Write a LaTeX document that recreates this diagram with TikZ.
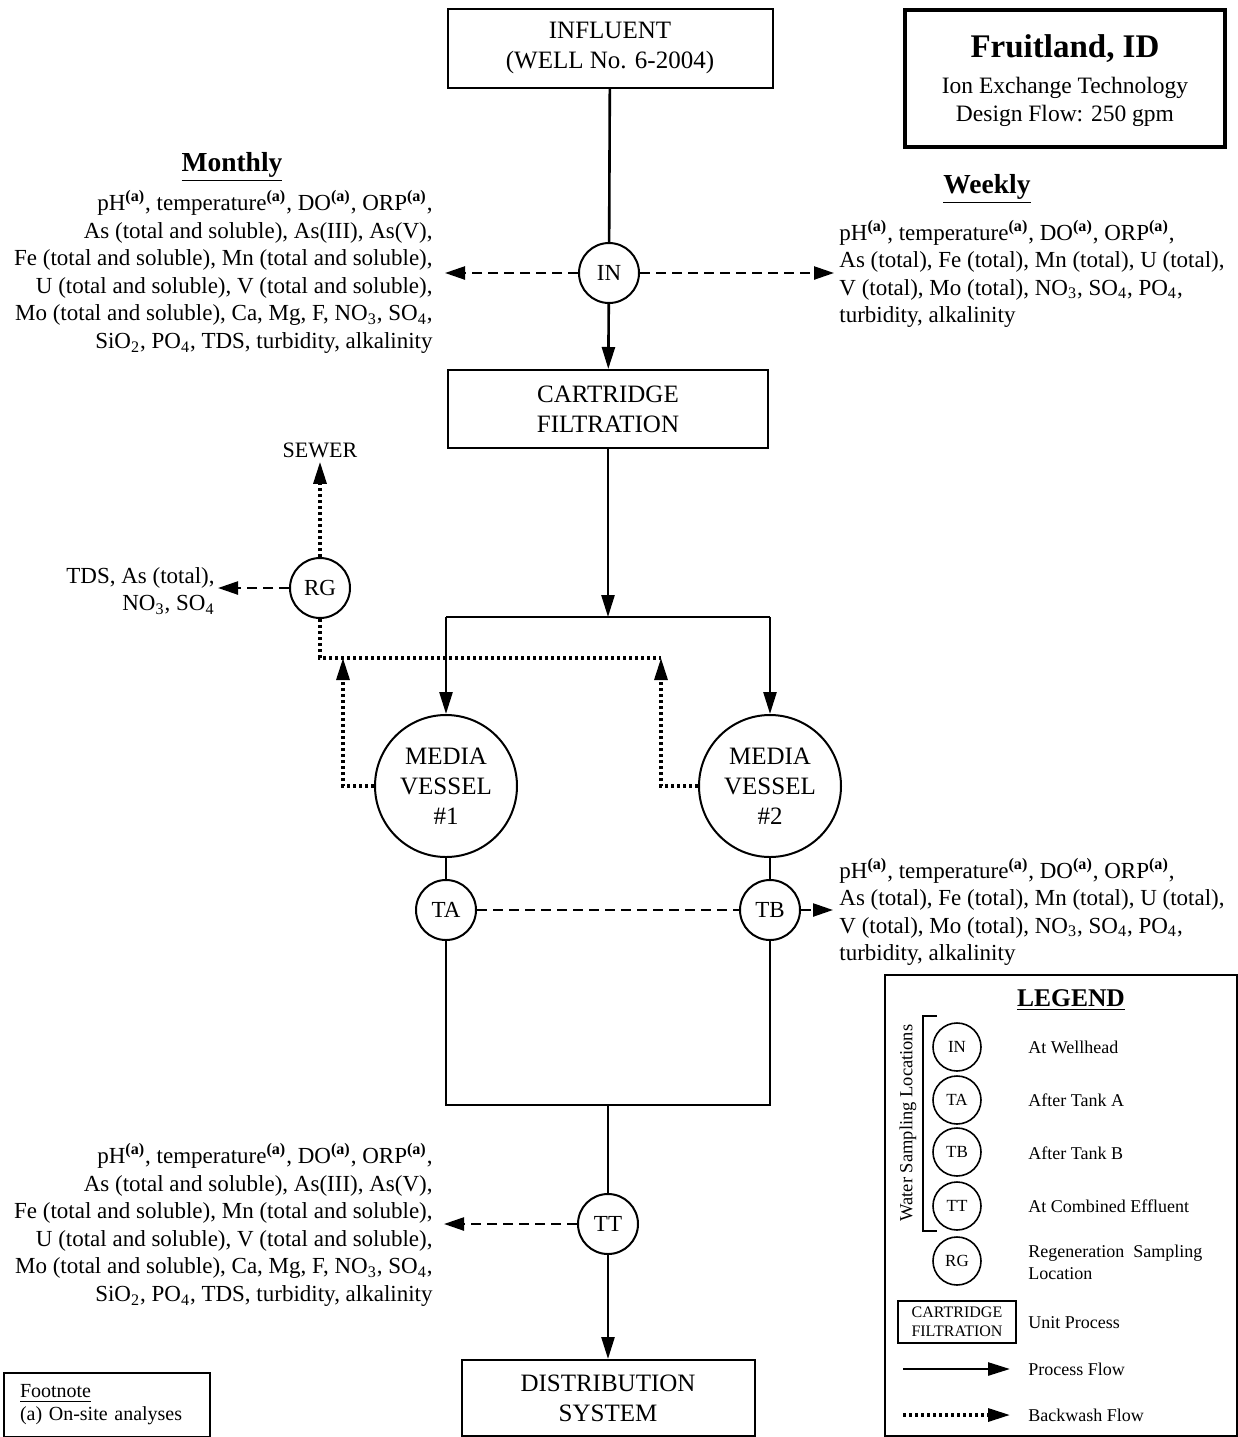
\documentclass[tikz,border=0pt]{standalone}
\usepackage{fontspec}
\setmainfont{Liberation Serif}
\usepackage{tikz}
\usetikzlibrary{arrows.meta}
\tikzstyle{pipe}      = [line width=1.3pt]
\tikzstyle{flowarrow} = [pipe, -{Triangle[length=11pt,width=6.5pt]}]
\tikzstyle{sampling}  = [line width=1.2pt, dash pattern=on 5pt off 3pt, -{Triangle[length=10pt,width=6.5pt]}]
\tikzstyle{tankline}  = [line width=1.2pt, dash pattern=on 5pt off 3pt]
\tikzstyle{backwash}  = [line width=1.6pt, dash pattern=on 1.5pt off 1.5pt]
\tikzstyle{unit}      = [rectangle, draw, line width=1pt, align=center, font=\fontsize{12.5}{15}\selectfont]
\tikzstyle{sample}    = [circle, draw, line width=1pt, minimum size=30pt, inner sep=0pt, font=\fontsize{11.5}{13}\selectfont]
\tikzstyle{vessel}    = [circle, draw, line width=1pt, minimum size=71pt, inner sep=0pt, align=center, font=\fontsize{12.5}{15}\selectfont]
\tikzstyle{params}    = [inner sep=0pt, font=\fontsize{11.5}{13.8}\selectfont]
\tikzstyle{heading}   = [inner sep=0pt, font=\fontsize{13.75}{15}\selectfont\bfseries]
\tikzstyle{lgsample}  = [circle, draw, line width=0.8pt, minimum size=24pt, inner sep=0pt, font=\fontsize{8.5}{10}\selectfont]
\tikzstyle{lgtext}    = [anchor=west, inner sep=0pt, align=left, font=\fontsize{9}{11}\selectfont]
\newcommand{\onsite}{\textsuperscript{\textbf{(a)}}}
\newcommand{\monthlylist}{pH\onsite, temperature\onsite, DO\onsite, ORP\onsite,\\
  As (total and soluble), As(III), As(V),\\
  Fe (total and soluble), Mn (total and soluble),\\
  U (total and soluble), V (total and soluble),\\
  Mo (total and soluble), Ca, Mg, F, NO\textsubscript{3}, SO\textsubscript{4},\\
  SiO\textsubscript{2}, PO\textsubscript{4}, TDS, turbidity, alkalinity}
\newcommand{\weeklylist}{pH\onsite, temperature\onsite, DO\onsite, ORP\onsite,\\
  As (total), Fe (total), Mn (total), U (total),\\
  V (total), Mo (total), NO\textsubscript{3}, SO\textsubscript{4}, PO\textsubscript{4},\\
  turbidity, alkalinity}

\begin{document}
\begin{tikzpicture}[x=0.5pt, y=-0.5pt]
    \useasboundingbox (0,0) rectangle (1238,1437);
    % Main train: influent -> IN -> cartridge -> two vessels -> TT -> distribution
    \node (influent)     at (610,48)    [unit, minimum width=162.5pt, minimum height=39.5pt] {INFLUENT\\(WELL No. 6-2004)};
    \node (in)           at (609,273)   [sample] {IN};
    \node (cartridge)    at (608,409)   [unit, minimum width=160pt, minimum height=39pt] {CARTRIDGE\\FILTRATION};
    \coordinate (split)  at (608,617);
    \coordinate (split1) at (446,617);
    \coordinate (split2) at (770,617);
    \node (vessel1)      at (446,786)   [vessel] {MEDIA\\VESSEL\\\#1};
    \node (vessel2)      at (770,786)   [vessel] {MEDIA\\VESSEL\\\#2};
    \node (ta)           at (446,910)   [sample] {TA};
    \node (tb)           at (770,910)   [sample] {TB};
    \coordinate (merge)  at (608,1105);
    \node (tt)           at (608,1224)  [sample] {TT};
    \node (distribution) at (608,1398)  [unit, minimum width=146.5pt, minimum height=38pt] {DISTRIBUTION\\SYSTEM};
    % Regeneration side
    \node (rg)           at (320,588)   [sample] {RG};
    \node (sewer)        at (320,450)   [inner sep=2pt, font=\fontsize{11}{13}\selectfont] {SEWER};
    \coordinate (bw1)    at (343,658);
    \coordinate (bw2)    at (661,658);

    % Sampling lists
    \node (monthlyhd) at (232,167)  [heading] {\underline{Monthly}};
    \node (monthly)   at (433,272)  [params, anchor=east, align=right] {\monthlylist};
    \node (weeklyhd)  at (987,189)  [heading] {\underline{Weekly}};
    \node (weekly)    at (839,274)  [params, anchor=west, align=left] {\weeklylist};
    \node (rgparams)  at (215,591)  [params, anchor=east, align=right] {TDS, As (total),\\NO\textsubscript{3}, SO\textsubscript{4}};
    \node (tbparams)  at (839,912)  [params, anchor=west, align=left] {\weeklylist};
    \node (ttparams)  at (433,1225) [params, anchor=east, align=right] {\monthlylist};
    \coordinate (inL) at (445,273);
    \coordinate (inR) at (834,273);
    \coordinate (rgL) at (218,588);
    \coordinate (tbR) at (833,910);
    \coordinate (ttL) at (444,1224);

    % Title and footnote
    \node (title) at (1065,78) [draw, line width=2pt, minimum width=160pt, minimum height=68.5pt, align=center, font=\fontsize{11.75}{14}\selectfont]
        {{\fontsize{16.5}{18}\selectfont\bfseries\rule{0pt}{14.3pt}Fruitland, ID}\\[4pt] Ion Exchange Technology\\Design Flow: 250 gpm};
    \node (footnote) at (3,1372) [draw, line width=1pt, anchor=north west, minimum height=32pt, text width=87pt, inner xsep=8pt, align=left, font=\fontsize{10}{11.5}\selectfont]
        {\underline{Footnote}\\(a) On-site analyses};

    % Process flow
    \draw [pipe]      (influent) -- (in);
    \draw [flowarrow] (in) -- (cartridge);
    \draw [flowarrow] (cartridge) -- (split);
    \draw [pipe]      (split1) -- (split2);
    \draw [flowarrow] (split1) -- (vessel1);
    \draw [flowarrow] (split2) -- (vessel2);
    \draw [pipe]      (vessel1) -- (ta);
    \draw [pipe]      (vessel2) -- (tb);
    \draw [pipe]      (ta) |- (merge) -| (tb);
    \draw [pipe]      (merge) -- (tt);
    \draw [flowarrow] (tt) -- (distribution);

    % Backwash flow
    \draw [backwash, -{Triangle[length=11pt,width=6.5pt]}] (vessel1.west) -| (bw1);
    \draw [backwash, -{Triangle[length=11pt,width=6.5pt]}] (vessel2.west) -| (bw2);
    \draw [backwash] (rg) |- (bw2);
    \draw [backwash, -{Triangle[length=11pt,width=6.5pt]}] (rg) -- (sewer);

    % Sampling
    \draw [sampling] (in) -- (inL);
    \draw [sampling] (in) -- (inR);
    \draw [sampling] (rg) -- (rgL);
    \draw [tankline] (ta) -- (tb);
    \draw [sampling] (tb) -- (tbR);
    \draw [sampling] (tt) -- (ttL);

    % Legend
    \draw [line width=1pt] (885,975) rectangle (1237,1436);
    \node (legendhd) at (1071,1000) [inner sep=0pt, font=\fontsize{12.75}{14}\selectfont\bfseries] {\underline{LEGEND}};
    \draw [line width=0.8pt] (937,1016) -- (923,1016) -- (923,1231) -- (937,1231);
    \node (lglabel) at (908,1123) [rotate=90, inner sep=0pt, font=\fontsize{9.25}{11}\selectfont] {Water Sampling Locations};
    \node (lgin) at (957,1047) [lgsample] {IN};
    \node (lgta) at (957,1100) [lgsample] {TA};
    \node (lgtb) at (957,1152) [lgsample] {TB};
    \node (lgtt) at (957,1206) [lgsample] {TT};
    \node (lgrg) at (957,1261) [lgsample] {RG};
    \node (lgunit) at (957,1322) [draw, line width=1pt, minimum width=59pt, minimum height=21pt, inner sep=1pt, align=center, font=\fontsize{8}{9.5}\selectfont] {CARTRIDGE\\FILTRATION};
    \coordinate (lgp1) at (903,1369);
    \coordinate (lgp2) at (1010,1369);
    \coordinate (lgb1) at (903,1415);
    \coordinate (lgb2) at (1010,1415);
    \draw [flowarrow] (lgp1) -- (lgp2);
    \draw [backwash, -{Triangle[length=11pt,width=6.5pt]}] (lgb1) -- (lgb2);
    \node (lgintxt) at (1028,1047) [lgtext] {At Wellhead};
    \node (lgtatxt) at (1028,1100) [lgtext] {After Tank A};
    \node (lgtbtxt) at (1028,1153) [lgtext] {After Tank B};
    \node (lgtttxt) at (1028,1206) [lgtext] {At Combined Effluent};
    \node (lgrgtxt) at (1028,1262) [lgtext] {Regeneration~~Sampling\\Location};
    \node (lgunittxt) at (1028,1323) [lgtext] {Unit Process};
    \node (lgflowtxt) at (1028,1369) [lgtext] {Process Flow};
    \node (lgbwtxt)   at (1028,1415) [lgtext] {Backwash Flow};
\end{tikzpicture}
\end{document}
